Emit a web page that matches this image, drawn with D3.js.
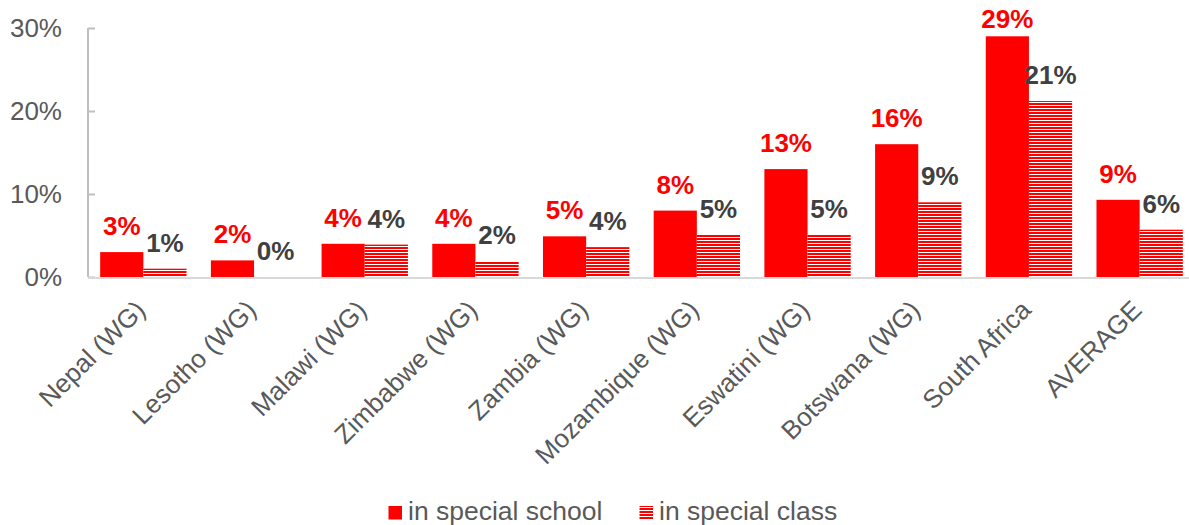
<!DOCTYPE html>
<html><head><meta charset="utf-8">
<script src="https://cdn.jsdelivr.net/npm/d3@7"></script>
<style>body{margin:0;background:#fff}svg{display:block;font-family:"Liberation Sans",Arial,sans-serif}</style>
</head><body><svg id="c" width="1189" height="525"></svg>
<script>
const categories = ["Nepal (WG)","Lesotho (WG)","Malawi (WG)","Zimbabwe (WG)","Zambia (WG)","Mozambique (WG)","Eswatini (WG)","Botswana (WG)","South Africa","AVERAGE"];
const specialSchool = [0.030,0.020,0.040,0.040,0.049,0.080,0.130,0.160,0.290,0.093];
const specialClass  = [0.010,0.000,0.039,0.019,0.036,0.051,0.051,0.090,0.212,0.057];
const seriesNames = ["in special school","in special class"];
const yTicks = [0,0.1,0.2,0.3];

(function(){
const svg = d3.select("#c");
const mLeft = 88, mRight = 1195, mTop = 28, mBottom = 277;
const defs = svg.append("defs");
const pat = defs.append("pattern").attr("id","hatch").attr("patternUnits","userSpaceOnUse")
  .attr("width",8).attr("height",3).attr("y",mBottom);
pat.append("rect").attr("width",8).attr("height",3).attr("fill","#fff");
pat.append("rect").attr("width",8).attr("height",2).attr("fill","#ff0000");

const x0 = d3.scaleBand().domain(categories).range([mLeft,mRight]).paddingInner(0.22).paddingOuter(0.11);
const x1 = d3.scaleBand().domain([0,1]).range([0,x0.bandwidth()]);
const y = d3.scaleLinear().domain([0,0.3]).range([mBottom,mTop]);

const yAx = svg.append("g").attr("transform",`translate(${mLeft},0)`)
  .call(d3.axisLeft(y).tickValues(yTicks).tickFormat(d3.format(".0%")).tickSize(-7).tickPadding(26));
yAx.select(".domain").attr("stroke","#bfbfbf").attr("stroke-width",2).attr("d",`M0,${mTop}V${mBottom}`);
yAx.selectAll(".tick line").attr("stroke","#bfbfbf").attr("stroke-width",2);
yAx.selectAll(".tick text").attr("fill","#595959").attr("font-size",26).attr("font-family","Liberation Sans, Arial, sans-serif");

const g = svg.append("g");
categories.forEach((c,i)=>{
  const vals=[specialSchool[i],specialClass[i]];
  vals.forEach((v,j)=>{
    const bx = x0(c)+x1(j);
    g.append("rect").attr("x",bx).attr("y",y(v)).attr("width",x1.bandwidth()).attr("height",mBottom-y(v))
      .attr("fill", j===0?"#ff0000":"url(#hatch)");
    g.append("text").attr("x",bx+x1.bandwidth()/2).attr("y",Math.max(y(v)-17,28)).attr("text-anchor","middle")
      .attr("font-size",26).attr("font-weight","bold").attr("fill", j===0?"#ff0000":"#404040")
      .text(d3.format(".0%")(v));
  });
});

svg.append("line").attr("x1",mLeft).attr("x2",1189).attr("y1",mBottom+1).attr("y2",mBottom+1)
  .attr("stroke","#d9d9d9").attr("stroke-width",2);
categories.forEach(c=>{
  const cx = x0(c)+x0.bandwidth()/2;
  svg.append("text").attr("transform",`translate(${cx+3.5},${mBottom+34.5}) rotate(-45)`)
    .attr("text-anchor","end").attr("font-size",26).attr("fill","#595959").text(c);
});

const leg = svg.append("g");
const lg = [{x:388.5,fill:"#ff0000"},{x:639.5,fill:"url(#hatch)"}];
lg.forEach((l,i)=>{
  leg.append("rect").attr("x",l.x).attr("y",506).attr("width",13.5).attr("height",13.5).attr("fill",l.fill);
  leg.append("text").attr("x",l.x+19.5).attr("y",520).attr("font-size",26.5).attr("fill","#595959").text(seriesNames[i]);
});
})();
</script></body></html>
